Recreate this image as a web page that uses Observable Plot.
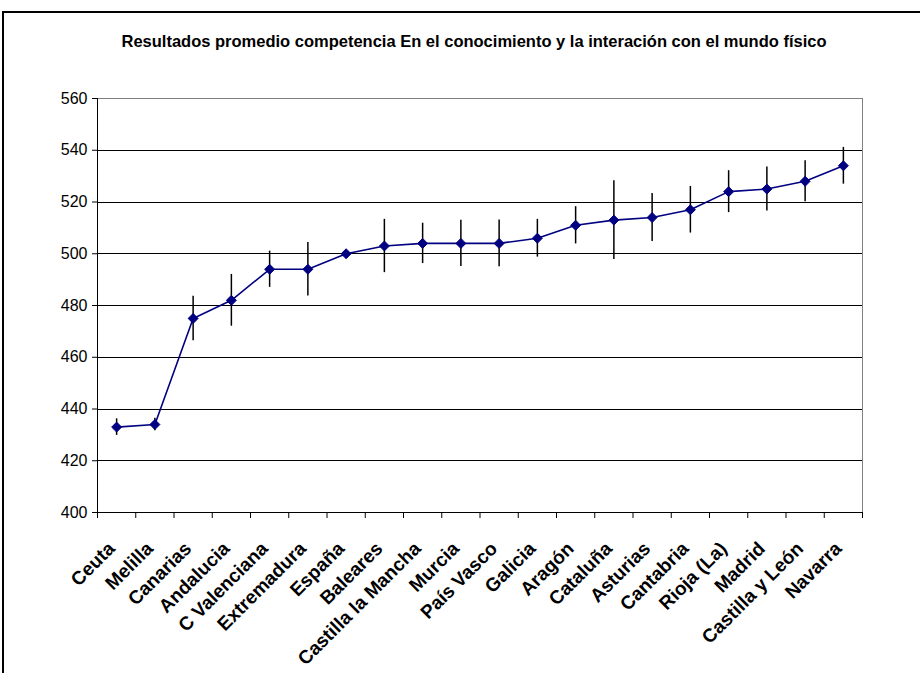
<!DOCTYPE html>
<html>
<head>
<meta charset="utf-8">
<script src="https://cdn.jsdelivr.net/npm/d3@7"></script>
<script src="https://cdn.jsdelivr.net/npm/@observablehq/plot@0.6"></script>
<style>
  html, body { margin: 0; padding: 0; background: #fff; }
  #wrap { position: relative; width: 920px; height: 673px; overflow: hidden; }
  #frame { position: absolute; left: 2px; top: 11px; width: 1000px; height: 1000px; border: 2px solid #000; box-sizing: border-box; pointer-events: none; }
  svg { font-family: "Liberation Sans", Arial, sans-serif; }
</style>
</head>
<body>
<div id="wrap"><div id="chart"></div><div id="frame"></div></div>
<script>
const title = "Resultados promedio competencia En el conocimiento y la interación con el mundo físico";
const regions = ["Ceuta", "Melilla", "Canarias", "Andalucia", "C Valenciana", "Extremadura", "España", "Baleares", "Castilla la Mancha", "Murcia", "País Vasco", "Galicia", "Aragón", "Cataluña", "Asturias", "Cantabria", "Rioja (La)", "Madrid", "Castilla y León", "Navarra"];
const scores = [433, 434, 475, 482, 494, 494, 500, 503, 504, 504, 504, 506, 511, 513, 514, 517, 524, 525, 528, 534];
const errors = [3.2, 2.4, 8.6, 10, 7, 10.3, 0, 10.3, 7.8, 8.9, 9, 7.3, 7.2, 15.2, 9.3, 9, 8.1, 8.5, 7.9, 7.1];
const yTicks = [400, 420, 440, 460, 480, 500, 520, 540, 560];

const n = regions.length;
const data = regions.map((r, i) => ({region: r, i: i + 0.5, score: scores[i], lo: scores[i] - errors[i], hi: scores[i] + errors[i], err: errors[i]}));
const boundaries = d3.range(0, n + 1);
const font = '"Liberation Sans", Arial, sans-serif';

const chart = Plot.plot({
  width: 920,
  height: 673,
  marginLeft: 97,
  marginRight: 58,
  marginTop: 98,
  marginBottom: 161,
  style: {fontFamily: font, background: "transparent", overflow: "visible", color: "#000"},
  x: {type: "linear", domain: [0, n]},
  y: {type: "linear", domain: [400, 560]},
  marks: [
    // gridlines
    Plot.ruleY(yTicks.filter(v => v > 400 && v < 560), {y: d => d, stroke: "#000", strokeWidth: 1, shapeRendering: "crispEdges"}),
    // plot area frame (gray)
    Plot.ruleY([560], {y: d => d, stroke: "#808080", strokeWidth: 1, shapeRendering: "crispEdges"}),
    Plot.ruleX([n], {x: d => d, stroke: "#808080", strokeWidth: 1, shapeRendering: "crispEdges"}),
    // axes
    Plot.axisY(yTicks, {anchor: "left", tickSize: 5, tickPadding: 5, fontSize: 16, stroke: "#000", fill: "#000", label: null}),
    Plot.axisX(boundaries, {anchor: "bottom", tickSize: 6, tickFormat: () => "", stroke: "#000", label: null}),
    Plot.ruleX([0], {x: d => d, stroke: "#000", strokeWidth: 1, shapeRendering: "crispEdges"}),
    Plot.ruleY([400], {y: d => d, stroke: "#000", strokeWidth: 1, shapeRendering: "crispEdges"}),
    // x labels
    Plot.text(data, {x: "i", frameAnchor: "bottom", text: "region", rotate: -45, textAnchor: "end", lineAnchor: "middle", dx: -5, dy: 33, fontSize: 19, fontWeight: "bold", fill: "#000"}),
    // error bars
    Plot.ruleX(data.filter(d => d.err > 0), {x: "i", y1: "lo", y2: "hi", stroke: "#000", strokeWidth: 1.5}),
    // line + markers
    Plot.line(data, {x: "i", y: "score", stroke: "#000080", strokeWidth: 1.6}),
    Plot.dot(data, {x: "i", y: "score", symbol: "diamond2", r: 4.5, fill: "#000080", stroke: "#000080", strokeWidth: 1}),
    // title
    Plot.text([title], {frameAnchor: "top", lineAnchor: "middle", dx: -6, dy: -57, text: d => d, fontSize: 16.5, fontWeight: "bold", fill: "#000"})
  ]
});

document.getElementById("chart").appendChild(chart);
</script>
</body>
</html>
